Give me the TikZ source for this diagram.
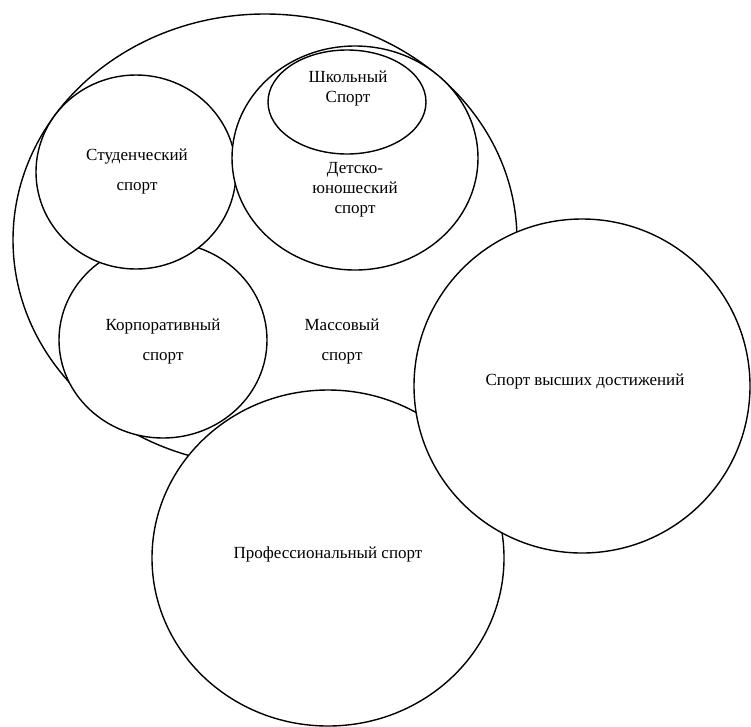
\documentclass[tikz,border=0pt]{standalone}
\usepackage{fontspec}
\setmainfont{Liberation Serif}
\usetikzlibrary{shapes.geometric}

\begin{document}
\begin{tikzpicture}[x=1pt, y=-1pt]
    \tikzstyle{area} = [ellipse, draw=black, line width=1.4pt, fill=white, inner sep=0pt, outer sep=0pt]
    \tikzstyle{areatext} = [align=center, font=\fontsize{17}{20}\selectfont, inner sep=0pt]

    \useasboundingbox (0,0) rectangle (751,726);

    \node (mass) [area, minimum width=504pt, minimum height=452pt] at (265,240) {};
    \node (korp) [area, minimum width=208pt, minimum height=196pt] at (163,340) {};
    \node (stud) [area, minimum width=200pt, minimum height=194pt] at (136,172) {};
    \node (youth) [area, minimum width=246pt, minimum height=224pt] at (355,158) {};
    \node (school) [area, minimum width=158pt, minimum height=104pt] at (347,102) {};
    \node (prof) [area, minimum width=352pt, minimum height=336pt] at (328,558) {};
    \node (elite) [area, minimum width=336pt, minimum height=334pt] at (582,386) {};

    \node (schooltext) [areatext] at (348,88) {Школьный\\Спорт};
    \node (studtext) [areatext] at (137,171) {Студенческий\\[10pt]спорт};
    \node (youthtext) [areatext] at (355,190) {Детско-\\юношеский\\спорт};
    \node (korptext) [areatext] at (163,341) {Корпоративный\\[10pt]спорт};
    \node (masstext) [areatext] at (342,341) {Массовый\\[10pt]спорт};
    \node (elitetext) [areatext] at (585,381) {Спорт высших достижений};
    \node (proftext) [areatext] at (328,554) {Профессиональный спорт};
\end{tikzpicture}
\end{document}
